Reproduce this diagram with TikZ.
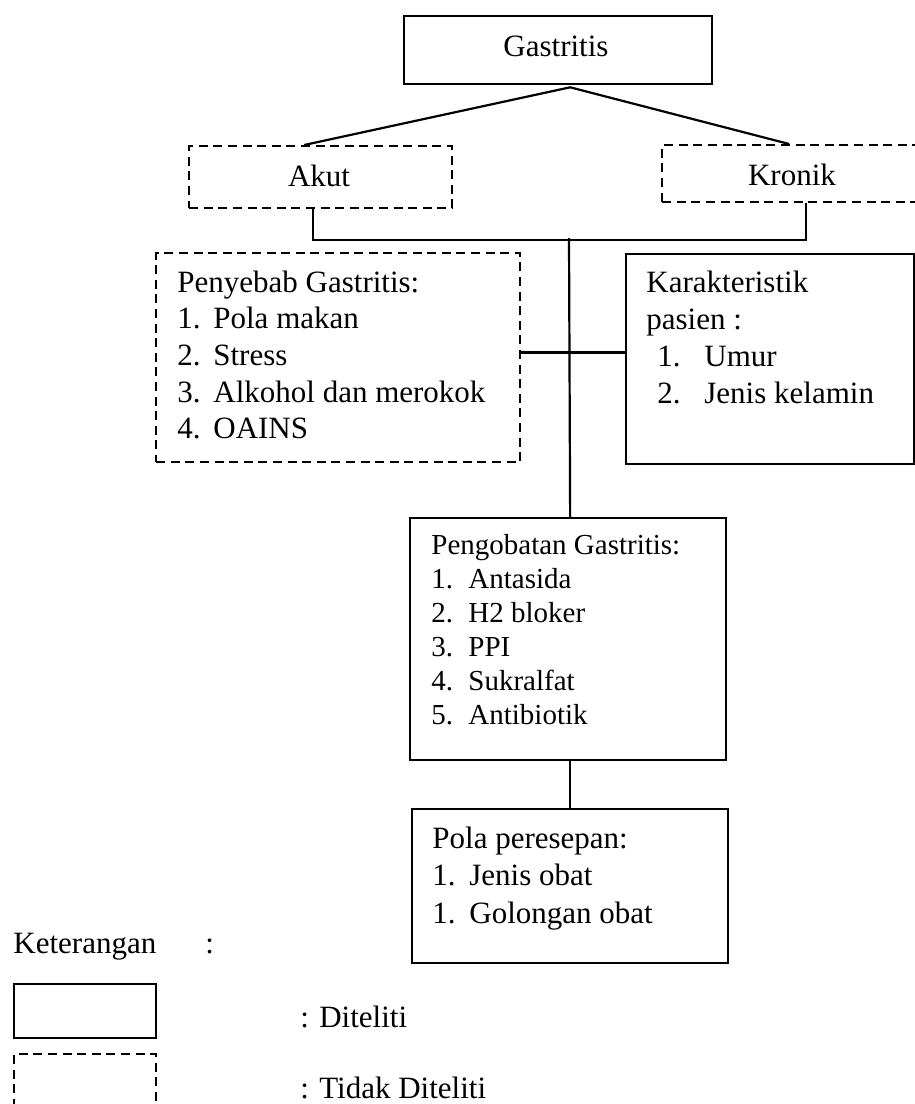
\documentclass[tikz,border=0pt]{standalone}
\usepackage{fontspec}
\setmainfont{Liberation Serif}
\usetikzlibrary{calc}
\begin{document}
\begin{tikzpicture}[x=0.5pt,y=-0.5pt,
  solidbox/.style={draw, line width=1.15pt, rectangle, inner sep=0pt, anchor=north west},
  dashbox/.style={draw, line width=1.15pt, dash pattern=on 4.5pt off 2.8pt, rectangle, inner sep=0pt, anchor=north west},
  conn/.style={line width=1.1pt},
  txt/.style={inner sep=0pt, anchor=base west, font=\fontsize{15.5pt}{18pt}\selectfont},
  txtc/.style={txt, anchor=base},
  txts/.style={txt, font=\fontsize{14.5pt}{17pt}\selectfont},
]
\clip (0,0) rectangle (915,1104);
\path[use as bounding box] (0,0) rectangle (915,1104);

% boxes
\node[solidbox, minimum width=154pt, minimum height=34pt] (gas) at (403,15) {};
\node[dashbox, minimum width=131.5pt, minimum height=31pt] (akut) at (188,145) {};
\node[dashbox, minimum width=134.5pt, minimum height=28.5pt] (kronik) at (661,144) {};
\node[dashbox, minimum width=182pt, minimum height=104.5pt] (pen) at (155,252) {};
\node[solidbox, minimum width=144pt, minimum height=105pt] (kar) at (625,253) {};
\node[solidbox, minimum width=158pt, minimum height=121pt] (peng) at (409,517) {};
\node[solidbox, minimum width=158pt, minimum height=77pt] (pola) at (411,808) {};
\node[solidbox, minimum width=71pt, minimum height=27pt] (lgs) at (13,983) {};
\node[dashbox, minimum width=71pt, minimum height=40pt] (lgd) at (13,1053) {};

% texts
\node[txtc] (tgas) at (556,56) {Gastritis};
\node[txtc] (takut) at (319,186) {Akut};
\node[txtc] (tkron) at (792,185) {Kronik};

\node[txt] (pen0) at (177,292) {Penyebab Gastritis:};
\node[txt] (pen1) at (177,328) {\makebox[18pt][l]{1.}Pola makan};
\node[txt] (pen2) at (177,365) {\makebox[18pt][l]{2.}Stress};
\node[txt] (pen3) at (177,402) {\makebox[18pt][l]{3.}Alkohol dan merokok};
\node[txt] (pen4) at (177,438) {\makebox[18pt][l]{4.}OAINS};

\node[txt] (kar0) at (646,292) {Karakteristik};
\node[txt] (kar1) at (646,329) {pasien :};
\node[txt] (kar2) at (657,366) {\makebox[23.5pt][l]{1.}Umur};
\node[txt] (kar3) at (657,403) {\makebox[23.5pt][l]{2.}Jenis kelamin};

\node[txts] (peng0) at (431,554) {Pengobatan Gastritis:};
\node[txts] (peng1) at (431,588) {\makebox[18.5pt][l]{1.}Antasida};
\node[txts] (peng2) at (431,622) {\makebox[18.5pt][l]{2.}H2 bloker};
\node[txts] (peng3) at (431,656) {\makebox[18.5pt][l]{3.}PPI};
\node[txts] (peng4) at (431,690) {\makebox[18.5pt][l]{4.}Sukralfat};
\node[txts] (peng5) at (431,724) {\makebox[18.5pt][l]{5.}Antibiotik};

\node[txt] (pola0) at (432,848) {Pola peresepan:};
\node[txt] (pola1) at (432,885) {\makebox[18.5pt][l]{1.}Jenis obat};
\node[txt] (pola2) at (432,923) {\makebox[18.5pt][l]{1.}Golongan obat};

\node[txt] (ket) at (13,953) {Keterangan};
\node[txt] (ketc) at (205,953) {:};
\node[txt] (ld) at (300,1027) {: Diteliti};
\node[txt] (ltd) at (300,1098) {: Tidak Diteliti};

% connectors
\coordinate (gj) at ($(gas.south)+(12,2)$);
\draw[conn] ($(akut.north)+(-16.5,0)$) -- (gj) -- ($(kronik.north)+(-7.5,0)$);
\draw[conn] ($(akut.south)+(-7.5,0)$) -- ++(0,31) -| ($(kronik.south)+(9.5,0)$);
\coordinate (jn) at (569,238);
\draw[conn] (jn) -- ($(peng.north)+(2,0)$);
\coordinate (hy) at (0,352.5);
\draw[conn] (pen.east |- hy) -- (kar.west |- hy);
\draw[conn] (pola.north |- peng.south) -- (pola.north);
\end{tikzpicture}
\end{document}
